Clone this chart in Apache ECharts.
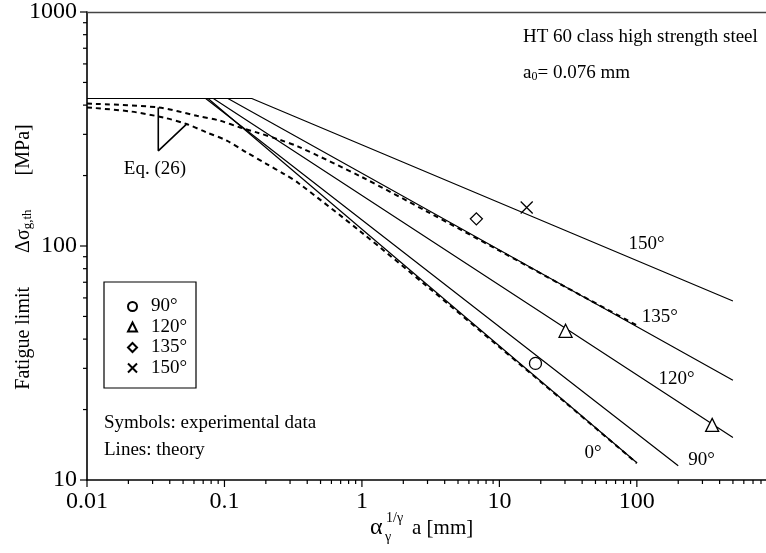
<!DOCTYPE html>
<html>
<head>
<meta charset="utf-8">
<script src="https://cdn.jsdelivr.net/npm/echarts@6/dist/echarts.min.js"></script>
<style>
html, body { margin: 0; background: #fff; }
#chart { width: 766px; height: 553px; }
</style>
</head>
<body>
<div id="chart"></div>
<script>
// experimental points [alpha^(1/gamma) a (mm), stress (MPa)]
var exp90 = [[18.3, 31.5]];
var exp120 = [[30.3, 43.4], [353, 17.2]];
var exp135 = [[6.8, 130.6]];
var exp150 = [[15.8, 146]];

// theory lines: plateau start, knee, end
var line0 = [[0.01, 427], [0.076, 427], [100, 11.85]];
var line90 = [[0.01, 427], [0.073, 427], [200, 11.5]];
var line120 = [[0.01, 427], [0.083, 427], [500, 15.2]];
var line135 = [[0.01, 427], [0.106, 427], [500, 26.7]];
var line150 = [[0.01, 427], [0.158, 427], [500, 58.2]];

// Eq. (26) dashed curves
var eq26Upper = [[0.01, 406], [0.033, 391], [0.063, 360], [0.093, 343], [0.13, 321], [0.171, 306],
  [0.254, 284], [0.344, 266], [1, 197], [3, 140], [10, 95.5], [30, 67], [100, 45.8]];
var eq26Lower = [[0.01, 391], [0.0206, 376], [0.036, 354], [0.053, 332], [0.074, 306], [0.104, 282],
  [0.145, 251], [0.203, 224], [0.268, 204], [0.344, 186], [1, 114], [3, 67], [10, 37], [30, 21.5], [100, 11.8]];

// pointer from "Eq. (26)" to the two curves
var eqPointer = [[0.033, 391], [0.033, 255], [0.053, 332]];
var eqLabelPos = [0.0312, 213];

// angle labels next to the lines
var angleNames = ['150°', '135°', '120°', '0°', '90°'];
var anglePos = [[117.6, 102], [147, 49.7], [194.5, 27], [48.1, 13], [295, 12.2]];

// axis ticks
var xMajor = [0.01, 0.1, 1, 10, 100];
var xMinor = [0.02, 0.03, 0.04, 0.05, 0.06, 0.07, 0.08, 0.09,
  0.2, 0.3, 0.4, 0.5, 0.6, 0.7, 0.8, 0.9,
  2, 3, 4, 5, 6, 7, 8, 9,
  20, 30, 40, 50, 60, 70, 80, 90,
  200, 300, 400, 500, 600, 700, 800];
var yMajor = [10, 100, 1000];
var yMinor = [20, 30, 40, 50, 60, 70, 80, 90, 200, 300, 400, 500, 600, 700, 800, 900];

var FONT = 'Liberation Serif';
var chart = echarts.init(document.getElementById('chart'));

function plain(v) { return String(+(+v).toPrecision(6)); }

// 刻度线（自己画，log 轴的小刻度）
function tickSeries(values, dir, len) {
  return {
    type: 'custom',
    silent: true,
    clip: false,
    z: 5,
    data: values.map(function (v) { return dir === 'x' ? [v, 10] : [0.01, v]; }),
    renderItem: function (params, api) {
      var p = api.coord([api.value(0), api.value(1)]);
      var shape = dir === 'x'
        ? { x1: p[0], y1: p[1], x2: p[0], y2: p[1] + len }
        : { x1: p[0], y1: p[1], x2: p[0] - len, y2: p[1] };
      return { type: 'line', shape: shape, style: { stroke: '#000', lineWidth: 1.2 } };
    }
  };
}

function theory(name, data) {
  return {
    name: name, type: 'line', data: data, symbol: 'none', silent: true,
    lineStyle: { color: '#000', width: 1.2 }, z: 2
  };
}

function dashed(name, data) {
  return {
    name: name, type: 'line', data: data, symbol: 'none', smooth: 0.3, silent: true,
    lineStyle: { color: '#000', width: 2, type: [5, 4] }, z: 3
  };
}

function marker(name, data, symbol, size) {
  return {
    name: name, type: 'scatter', data: data, symbol: symbol, symbolSize: size, z: 10,
    itemStyle: { color: '#fff', borderColor: '#000', borderWidth: 1.3, opacity: 1 }
  };
}

function txt(x, y, s, extra) {
  var st = { text: s, font: '19px "Liberation Serif"', fill: '#000', verticalAlign: 'middle' };
  for (var k in extra) st[k] = extra[k];
  return { type: 'text', x: x, y: y, z: 30, style: st };
}

var option = {
  animation: false,
  backgroundColor: '#fff',
  textStyle: { fontFamily: FONT, color: '#000' },
  grid: { left: 87, right: 0, top: 11, bottom: 73 },
  legend: {
    orient: 'vertical',
    left: 122, top: 292,
    itemWidth: 9, itemHeight: 9, itemGap: 1.5,
    data: ['90°', '120°', '135°', '150°'],
    textStyle: { fontFamily: FONT, fontSize: 19, color: '#000', padding: [0, 0, 0, 9] }
  },
  xAxis: [{
    type: 'log', logBase: 10, min: 0.01, max: 870,
    axisLine: { lineStyle: { color: '#000', width: 1.6 } },
    axisTick: { show: false },
    splitLine: { show: false },
    axisLabel: {
      customValues: xMajor,
      margin: 10, fontSize: 24, fontFamily: FONT, color: '#000',
      formatter: function (v) { return xMajor.indexOf(+plain(v)) >= 0 ? plain(v) : ''; }
    }
  }, {
    type: 'log', logBase: 10, min: 0.01, max: 870, position: 'top',
    axisLine: { lineStyle: { color: '#444', width: 1.4 } },
    axisTick: { show: false }, axisLabel: { show: false }, splitLine: { show: false }
  }],
  yAxis: {
    type: 'log', logBase: 10, min: 10, max: 1000,
    axisLine: { lineStyle: { color: '#000', width: 1.6 } },
    axisTick: { show: false },
    splitLine: { show: false },
    axisLabel: { margin: 10, fontSize: 24, fontFamily: FONT, color: '#000', formatter: plain }
  },
  series: [
    theory('0° theory', line0),
    theory('90° theory', line90),
    theory('120° theory', line120),
    theory('135° theory', line135),
    theory('150° theory', line150),
    dashed('Eq26 upper', eq26Upper),
    dashed('Eq26 lower', eq26Lower),
    {
      name: 'pointer', type: 'line', data: eqPointer, symbol: 'none', silent: true,
      lineStyle: { color: '#000', width: 1.6 }, z: 4
    },
    marker('90°', exp90, 'circle', 12),
    marker('120°', exp120, 'triangle', 13),
    marker('135°', exp135, 'path://M0,-1L1,0L0,1L-1,0Z', 12),
    marker('150°', exp150, 'path://M0,0L10,10M10,0L0,10', 12),
    tickSeries(xMajor, 'x', 7),
    tickSeries(xMinor, 'x', 4),
    tickSeries(yMajor, 'y', 7),
    tickSeries(yMinor, 'y', 4)
  ]
};

chart.setOption(option);

// 文字标注：位置用坐标轴换算
var graphics = [
  { type: 'rect', shape: { x: 104, y: 282, width: 92, height: 106 },
    style: { fill: 'none', stroke: '#000', lineWidth: 1.2 }, z: 20 },
  txt(523, 37, 'HT 60 class high strength steel'),
  txt(523, 72, '{n|a}{s|0}{n|= 0.076 mm}', {
    font: null,
    rich: { n: { fontFamily: FONT, fontSize: 19, verticalAlign: 'bottom', lineHeight: 22 },
            s: { fontFamily: FONT, fontSize: 12, verticalAlign: 'bottom', lineHeight: 18 } } }),
  txt(104, 423, 'Symbols: experimental data'),
  txt(104, 450, 'Lines: theory'),
  // x axis title
  txt(370, 528, 'α', { font: '24px "Liberation Serif"' }),
  txt(385, 537, 'γ', { font: '14px "Liberation Serif"' }),
  txt(386, 518, '1/γ', { font: '14px "Liberation Serif"' }),
  txt(412, 528, 'a [mm]', { font: '21px "Liberation Serif"' }),
  // y axis title
  { type: 'text', x: 22, y: 257, rotation: Math.PI / 2,
    style: {
      text: '{m|Fatigue limit}{g|Δσ}{s|g,th}{c|[MPa]}',
      align: 'center', verticalAlign: 'middle', fill: '#000',
      rich: {
        m: { fontFamily: FONT, fontSize: 20, verticalAlign: 'bottom', lineHeight: 24, padding: [0, 34, 0, 0] },
        g: { fontFamily: FONT, fontSize: 20, verticalAlign: 'bottom', lineHeight: 24 },
        s: { fontFamily: FONT, fontSize: 13, verticalAlign: 'bottom', lineHeight: 20 },
        c: { fontFamily: FONT, fontSize: 20, verticalAlign: 'bottom', lineHeight: 24, padding: [0, 0, 0, 34] }
      }
    } }
];
anglePos.forEach(function (p, i) {
  var px = chart.convertToPixel({ gridIndex: 0 }, p);
  graphics.push(txt(px[0], px[1], angleNames[i], { align: 'center' }));
});
var eqPx = chart.convertToPixel({ gridIndex: 0 }, eqLabelPos);
graphics.push(txt(eqPx[0], eqPx[1], 'Eq. (26)', { align: 'center' }));

chart.setOption({ graphic: graphics });
</script>
</body>
</html>
